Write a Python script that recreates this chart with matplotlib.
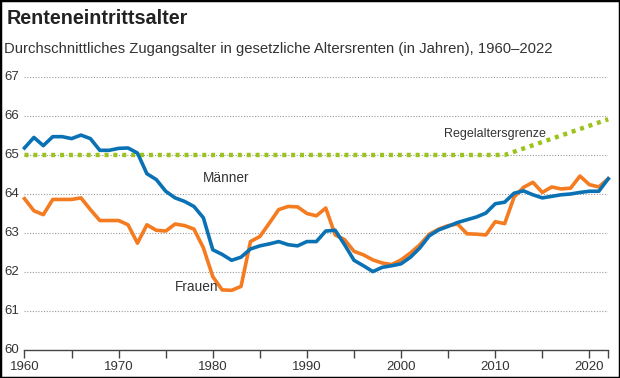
import matplotlib
matplotlib.use("Agg")
import matplotlib.pyplot as plt
from matplotlib.patches import Rectangle

plt.rcParams["font.family"] = ["Liberation Sans", "DejaVu Sans"]

years = list(range(1960, 2023))

maenner = [
    65.18, 65.45, 65.24, 65.47, 65.47, 65.42, 65.51, 65.42, 65.12, 65.12,
    65.17, 65.18, 65.05, 64.52, 64.37, 64.07, 63.90, 63.81, 63.68, 63.39,
    62.57, 62.45, 62.30, 62.38, 62.59, 62.67, 62.72, 62.78, 62.70, 62.67,
    62.78, 62.78, 63.05, 63.07, 62.70, 62.30, 62.16, 62.01, 62.12, 62.16,
    62.21, 62.38, 62.62, 62.93, 63.08, 63.17, 63.27, 63.34, 63.41, 63.51,
    63.75, 63.79, 64.02, 64.08, 63.98, 63.90, 63.94, 63.98, 64.00, 64.04,
    64.07, 64.07, 64.39,
]

frauen = [
    63.88, 63.57, 63.47, 63.86, 63.86, 63.86, 63.90, 63.60, 63.32, 63.32,
    63.32, 63.21, 62.74, 63.21, 63.07, 63.05, 63.23, 63.19, 63.10, 62.62,
    61.88, 61.54, 61.53, 61.63, 62.78, 62.91, 63.25, 63.60, 63.68, 63.67,
    63.50, 63.44, 63.64, 62.95, 62.83, 62.53, 62.44, 62.31, 62.23, 62.19,
    62.31, 62.49, 62.70, 62.97, 63.10, 63.19, 63.23, 62.98, 62.97, 62.95,
    63.29, 63.24, 63.92, 64.17, 64.30, 64.04, 64.18, 64.13, 64.15, 64.46,
    64.24, 64.18, 64.39,
]

# Regelaltersgrenze: 65 bis 2011, danach +1 Monat pro Jahr
regel_years = [1960, 2011, 2012, 2013, 2014, 2015, 2016, 2017, 2018, 2019, 2020, 2021, 2022]
regel = [65.0, 65.0] + [65 + m / 12 for m in range(1, 12)]

y_ticks = [60, 61, 62, 63, 64, 65, 66, 67]
x_ticks = [1960, 1965, 1970, 1975, 1980, 1985, 1990, 1995, 2000, 2005, 2010, 2015, 2020, 2022]
x_labels = ["1960", "", "1970", "", "1980", "", "1990", "", "2000", "", "2010", "", "2020", ""]

blue = "#0a72b4"
orange = "#f47b20"
green = "#9cc21c"
text_col = "#333333"

fig = plt.figure(figsize=(6.2, 3.78), dpi=100)
ax = fig.add_axes([0.0395, 0.0741, 0.9415, 0.7222])

for v in y_ticks[1:]:
    ax.axhline(v, color="#9a9a9a", linewidth=0.8, linestyle=(0, (1, 1.5)), zorder=1)

ax.plot(regel_years, regel, color=green, linewidth=3.2, linestyle=(0, (0.9, 1.1)),
        zorder=2, clip_on=False)
ax.plot(years, frauen, color=orange, linewidth=2.6, zorder=3, clip_on=False,
        solid_joinstyle="round")
ax.plot(years, maenner, color=blue, linewidth=2.6, zorder=4, clip_on=False,
        solid_joinstyle="round")

ax.set_xlim(1960, 2022)
ax.set_ylim(60, 67)

for side in ["top", "right", "left"]:
    ax.spines[side].set_visible(False)
ax.spines["bottom"].set_color("#444444")
ax.spines["bottom"].set_linewidth(1.0)

ax.set_xticks(x_ticks)
ax.set_xticklabels(x_labels)
ax.tick_params(axis="x", direction="out", length=6, width=1.0, color="#444444",
               labelsize=9.5, labelcolor=text_col, pad=2)
ax.set_yticks([])
for v in y_ticks:
    ax.text(-0.034, v, str(v), transform=ax.get_yaxis_transform(), ha="left",
            va="center", fontsize=9.5, color=text_col, clip_on=False)

ax.text(1978.95, 64.42, "Männer", fontsize=9.8, color=text_col, va="center", ha="left")
ax.text(1976.0, 61.62, "Frauen", fontsize=9.8, color=text_col, va="center", ha="left")
ax.text(2004.6, 65.53, "Regelaltersgrenze", fontsize=9, color=text_col, va="center", ha="left")

fig.text(0.011, 0.952, "Renteneintrittsalter", fontsize=14.2, fontweight="bold",
         color="#222222", va="center", ha="left")
fig.text(0.006, 0.870,
         "Durchschnittliches Zugangsalter in gesetzliche Altersrenten (in Jahren), 1960–2022",
         fontsize=10.7, color=text_col, va="center", ha="left")

fig.patches.append(Rectangle((0, 0), 1, 1, transform=fig.transFigure, fill=False,
                             edgecolor="black", linewidth=2.5, zorder=10))

fig.savefig("out.png", dpi=100)
